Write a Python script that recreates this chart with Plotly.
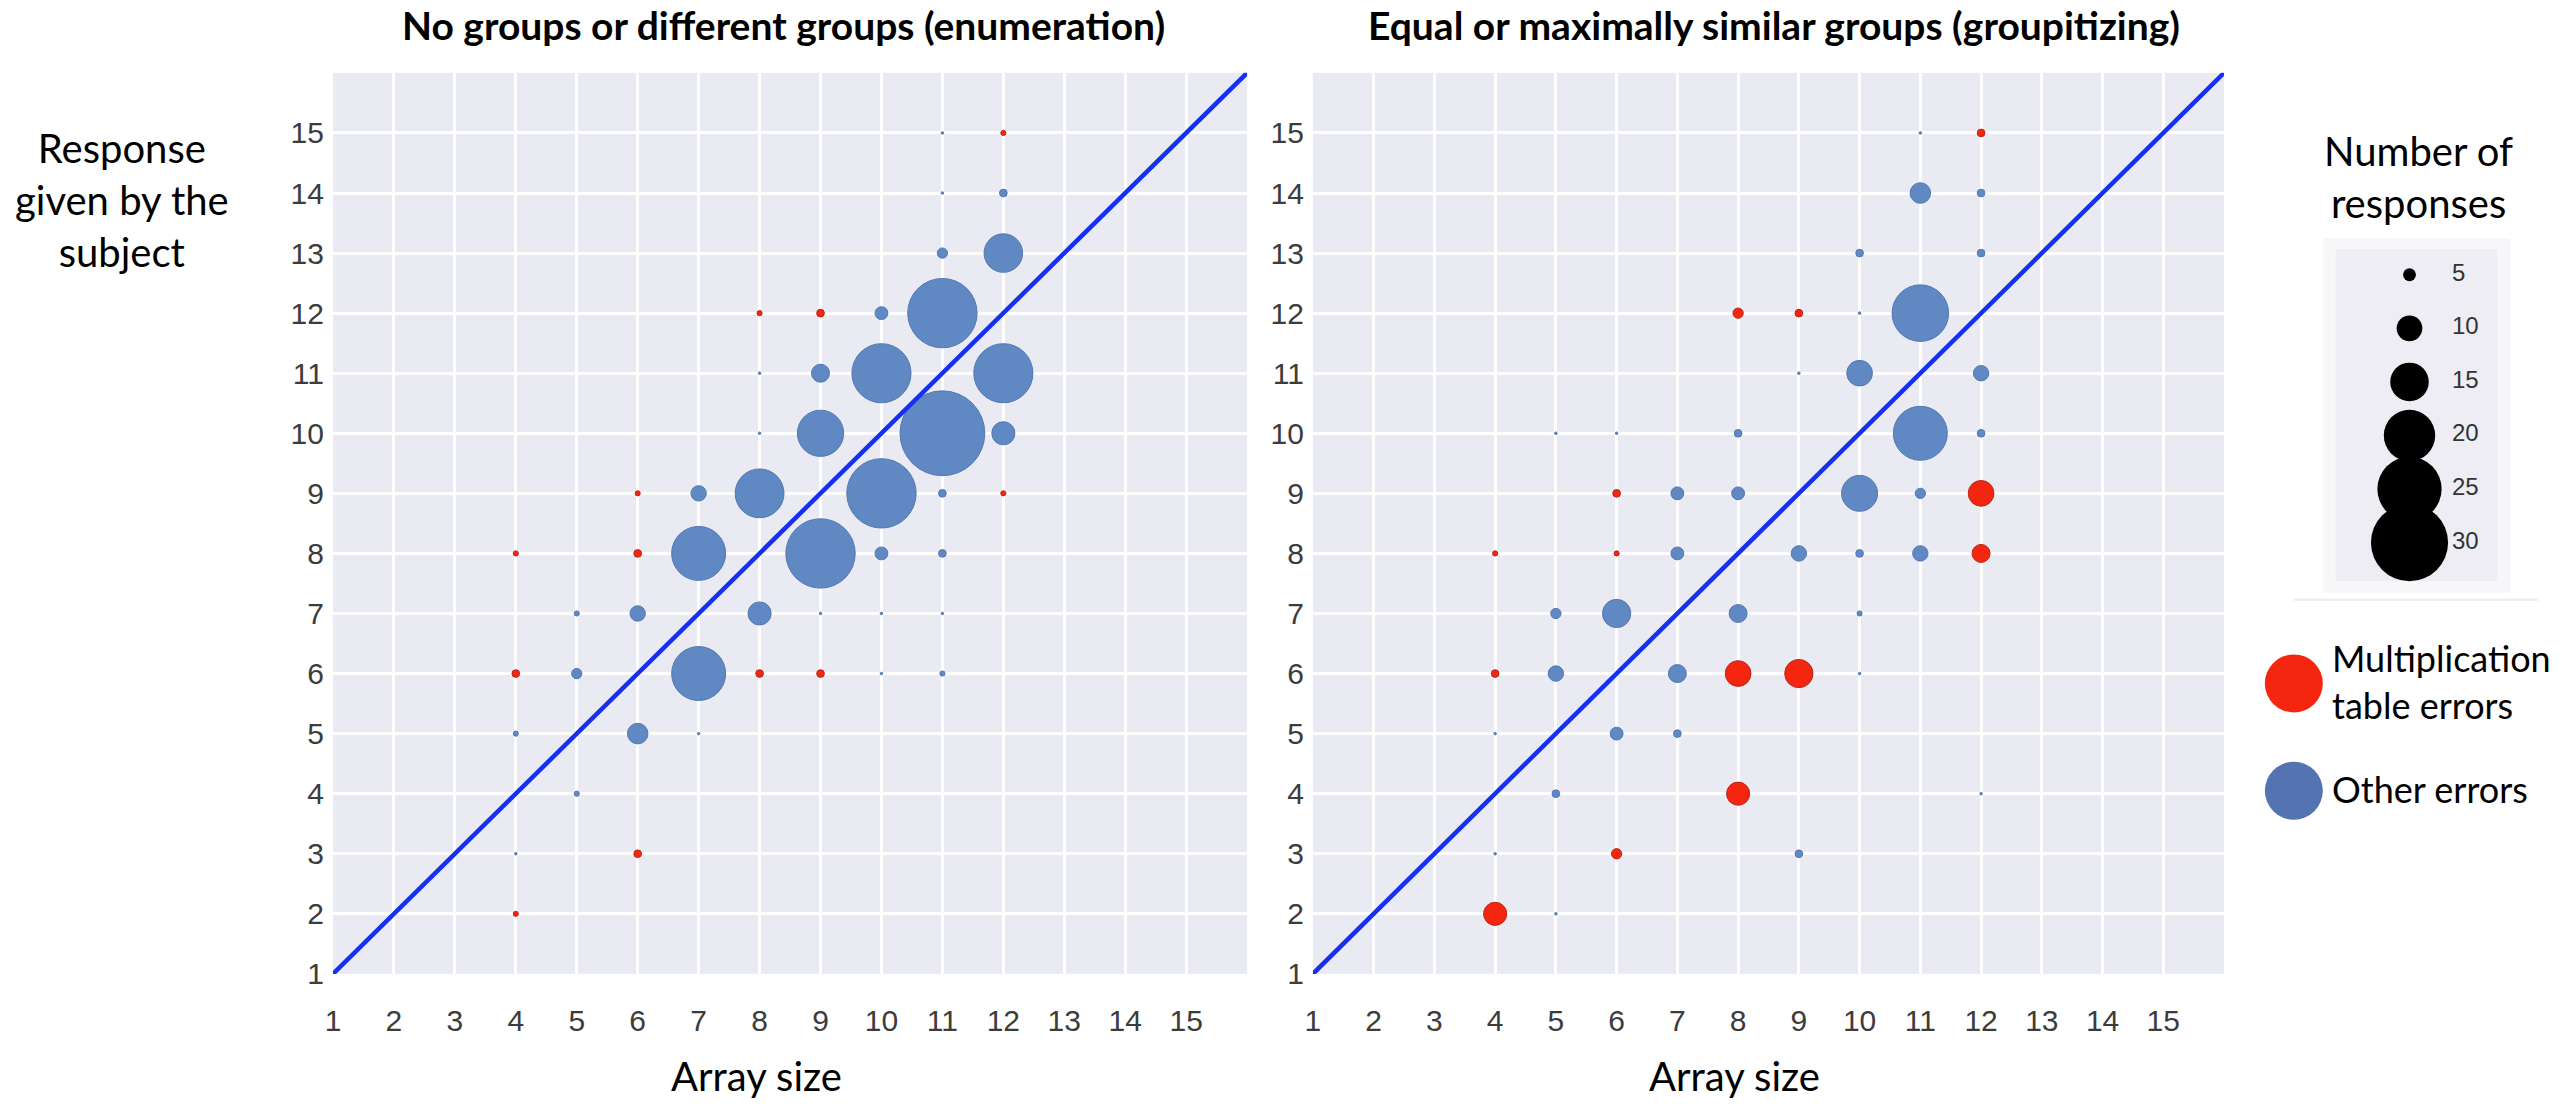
import plotly.graph_objects as go

W, H = 2560, 1113

# ---------------- data ----------------
# Left panel: no groups or different groups (enumeration)
enum_red_x = [12, 8, 9, 6, 12, 4, 6, 4, 8, 9, 6, 4]
enum_red_y = [15, 12, 12, 9, 9, 8, 8, 6, 6, 6, 3, 2]
enum_red_n = [2, 2, 3, 2, 2, 2, 3, 3, 3, 3, 3, 2]

enum_blue_x = [11, 11, 12, 11, 12, 10, 11, 8, 9, 10, 12, 8, 9, 11, 12, 7, 8, 10, 11, 7,
               9, 10, 11, 5, 6, 8, 9, 10, 11, 5, 7, 10, 11, 4, 6, 7, 5, 4]
enum_blue_y = [15, 14, 14, 13, 13, 12, 12, 11, 11, 11, 11, 10, 10, 10, 10, 9, 9, 9, 9, 8,
               8, 8, 8, 7, 7, 7, 7, 7, 7, 6, 6, 6, 6, 5, 5, 5, 4, 3]
enum_blue_n = [1, 1, 3, 4, 15, 5, 27, 1, 7, 23, 23, 1, 18, 33, 9, 6, 19, 27, 3, 21,
               27, 5, 3, 2, 6, 9, 1, 1, 1, 4, 21, 1, 2, 2, 8, 1, 2, 1]

# Right panel: equal or maximally similar groups (groupitizing)
group_red_x = [12, 8, 9, 6, 12, 4, 6, 12, 4, 8, 9, 8, 6, 4]
group_red_y = [15, 12, 12, 9, 9, 8, 8, 8, 6, 6, 6, 4, 3, 2]
group_red_n = [3, 4, 3, 3, 10, 2, 2, 7, 3, 10, 11, 9, 4, 9]

group_blue_x = [11, 11, 12, 10, 12, 10, 11, 9, 10, 12, 5, 6, 8, 11, 12, 7, 8, 10, 11, 7,
                9, 10, 11, 5, 6, 8, 10, 5, 7, 10, 4, 6, 7, 5, 12, 4, 9, 5]
group_blue_y = [15, 14, 14, 13, 13, 12, 12, 11, 11, 11, 10, 10, 10, 10, 10, 9, 9, 9, 9, 8,
                8, 8, 8, 7, 7, 7, 7, 6, 6, 6, 5, 5, 5, 4, 4, 3, 3, 2]
group_blue_n = [1, 8, 3, 3, 3, 1, 22, 1, 10, 6, 1, 1, 3, 21, 3, 5, 5, 14, 4, 5,
                6, 3, 6, 4, 11, 7, 2, 6, 7, 1, 1, 5, 3, 3, 1, 1, 3, 1]

identity_line = [1, 16]
tick_values = list(range(1, 16))
tick_labels = [str(v) for v in tick_values]
size_legend_values = [5, 10, 15, 20, 25, 30]

panel_titles = ["No groups or different groups (enumeration)",
                "Equal or maximally similar groups (groupitizing)"]
x_title = "Array size"
y_title = "Response<br>given by the<br>subject"
size_legend_title = "Number of<br>responses"
category_labels = ["Multiplication<br>table errors", "Other errors"]

# ---------------- styles ----------------
BLUE = "#6088c3"
BLUE_EDGE = "#5478b4"
RED = "#f5260f"
RED_EDGE = "#b8281a"
LINE_BLUE = "#1530f2"
BG = "#eaeaf2"
SIZEREF = 1 / 2.57
TXT_FONT = "Lato, Open Sans, sans-serif"
TICK_FONT = "Liberation Sans, Arial, sans-serif"


def px_x(p):
    return p / W


def px_y(p):
    return 1 - p / H


fig = go.Figure()

panels = [
    ("x", "y", enum_red_x, enum_red_y, enum_red_n, enum_blue_x, enum_blue_y, enum_blue_n),
    ("x2", "y2", group_red_x, group_red_y, group_red_n, group_blue_x, group_blue_y, group_blue_n),
]
for xa, ya, rx, ry, rn, bx, by, bn in panels:
    fig.add_trace(go.Scatter(
        x=bx, y=by, mode="markers", xaxis=xa, yaxis=ya, showlegend=False,
        marker=dict(size=bn, sizemode="diameter", sizeref=SIZEREF, color=BLUE, opacity=1,
                    line=dict(width=1, color=BLUE_EDGE)),
        cliponaxis=False))
    fig.add_trace(go.Scatter(
        x=rx, y=ry, mode="markers", xaxis=xa, yaxis=ya, showlegend=False,
        marker=dict(size=rn, sizemode="diameter", sizeref=SIZEREF, color=RED, opacity=1,
                    line=dict(width=1, color=RED_EDGE)),
        cliponaxis=False))
    fig.add_trace(go.Scatter(
        x=identity_line, y=identity_line, mode="lines", xaxis=xa, yaxis=ya,
        showlegend=False, line=dict(color=LINE_BLUE, width=4.5)))

# size legend (black bubbles)
fig.add_trace(go.Scatter(
    x=[0.457] * len(size_legend_values), y=size_legend_values, mode="markers",
    xaxis="x3", yaxis="y3", showlegend=False,
    marker=dict(size=size_legend_values, sizemode="diameter", sizeref=SIZEREF,
                color="black", opacity=1, line=dict(width=0)), cliponaxis=False))
fig.add_trace(go.Scatter(
    x=[0.72] * len(size_legend_values), y=size_legend_values, mode="text",
    text=[str(v) for v in size_legend_values], textposition="middle right",
    xaxis="x3", yaxis="y3", showlegend=False,
    textfont=dict(family=TICK_FONT, size=24, color="#333333"), cliponaxis=False))

# plot area geometry (pixels)
L1, R1 = 326, 1243
L2, R2 = 1309, 2223
TOP, BOT = 74, 989

axis_common = dict(
    range=[1, 16], tickvals=tick_values, ticktext=tick_labels,
    showgrid=True, gridcolor="white", gridwidth=3, zeroline=False,
    showline=False, ticks="", tickfont=dict(family=TICK_FONT, size=30, color="#3c3c3c"),
    fixedrange=True,
)

fig.update_layout(
    width=W, height=H, autosize=False,
    margin=dict(l=0, r=0, t=0, b=0),
    paper_bgcolor="white", plot_bgcolor=BG,
    xaxis=dict(domain=[px_x(L1), px_x(R1)], anchor="y", ticklabelstandoff=26, **axis_common),
    yaxis=dict(domain=[px_y(BOT), px_y(TOP)], anchor="x", ticklabelstandoff=8, **axis_common),
    xaxis2=dict(domain=[px_x(L2), px_x(R2)], anchor="y2", ticklabelstandoff=26, **axis_common),
    yaxis2=dict(domain=[px_y(BOT), px_y(TOP)], anchor="x2", ticklabelstandoff=8, **axis_common),
    xaxis3=dict(domain=[px_x(2335), px_x(2497)], anchor="y3", range=[0, 1],
                visible=False, fixedrange=True),
    yaxis3=dict(domain=[px_y(590), px_y(253)], anchor="x3", range=[33.58, 2.61],
                visible=False, fixedrange=True),
)

shapes = []
# size legend box
shapes.append(dict(type="rect", xref="paper", yref="paper", layer="below",
                   x0=px_x(2322), x1=px_x(2510), y0=px_y(602), y1=px_y(242),
                   fillcolor="#f7f7fa", line=dict(width=0)))
shapes.append(dict(type="rect", xref="paper", yref="paper", layer="below",
                   x0=px_x(2335), x1=px_x(2497), y0=px_y(590), y1=px_y(253),
                   fillcolor="#ededf3", line=dict(width=0)))
shapes.append(dict(type="line", xref="paper", yref="paper",
                   x0=px_x(2293), x1=px_x(2538), y0=px_y(609), y1=px_y(609),
                   line=dict(color="#ececec", width=2)))
# category legend circles
for cy, col in [(694, RED), (803, "#5473b1")]:
    shapes.append(dict(type="circle", xref="paper", yref="paper",
                       xsizemode="pixel", ysizemode="pixel",
                       xanchor=px_x(2293), yanchor=px_y(cy),
                       x0=-29, x1=29, y0=-29, y1=29,
                       fillcolor=col, line=dict(width=0)))
fig.update_layout(shapes=shapes)

ann = []
# panel titles
for cx, t in [(778, panel_titles[0]), (1772, panel_titles[1])]:
    ann.append(dict(text="<b>" + t + "</b>", x=px_x(cx), y=1.0, xref="paper", yref="paper",
                    xanchor="center", yanchor="top", showarrow=False,
                    font=dict(family=TXT_FONT, size=39, color="black")))
# x-axis titles
for xr in ["x domain", "x2 domain"]:
    ann.append(dict(text=x_title, x=0.463, y=px_y(1093), xref=xr, yref="paper",
                    xanchor="center", yanchor="middle", showarrow=False,
                    font=dict(family=TXT_FONT, size=40, color="black")))
# y-axis title
ann.append(dict(text=y_title, x=px_x(114), y=px_y(203), xref="paper", yref="paper",
                xanchor="center", yanchor="middle", showarrow=False,
                font=dict(family=TXT_FONT, size=40, color="black")))
# size legend title
ann.append(dict(text=size_legend_title, x=px_x(2418), y=px_y(180), xref="paper", yref="paper",
                xanchor="center", yanchor="middle", showarrow=False,
                font=dict(family=TXT_FONT, size=40, color="black")))
# category legend labels
ann.append(dict(text=category_labels[0], x=px_x(2329), y=px_y(692), xref="paper", yref="paper",
                xanchor="left", yanchor="middle", align="left", showarrow=False,
                font=dict(family=TXT_FONT, size=36, color="black")))
ann.append(dict(text=category_labels[1], x=px_x(2329), y=px_y(801), xref="paper", yref="paper",
                xanchor="left", yanchor="middle", align="left", showarrow=False,
                font=dict(family=TXT_FONT, size=36, color="black")))
fig.update_layout(annotations=ann)

fig.write_html("out.html")
